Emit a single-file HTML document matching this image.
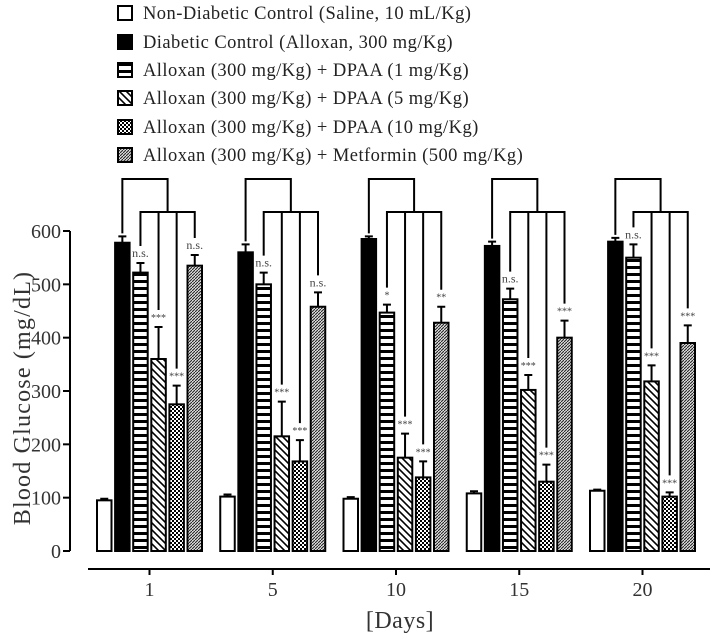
<!DOCTYPE html>
<html><head><meta charset="utf-8"><style>
body{margin:0;background:#fff}
svg{display:block;font-family:"Liberation Serif",serif}
</style></head><body>
<svg id="c" width="714" height="635" viewBox="0 0 714 635">
<defs>
<pattern id="p-h" width="6" height="7" patternUnits="userSpaceOnUse"><rect width="6" height="7" fill="#fff"/><rect y="0" width="6" height="3" fill="#000"/></pattern>
<pattern id="p-d" width="7" height="7" patternUnits="userSpaceOnUse"><rect width="7" height="7" fill="#fff"/><path d="M-1,-1 L8,8 M-8,-1 L1,8 M6,-1 L15,8" stroke="#000" stroke-width="1.6"/></pattern>
<pattern id="p-c" width="4" height="4" patternUnits="userSpaceOnUse"><rect width="4" height="4" fill="#fff"/><rect width="2" height="2" fill="#000"/><rect x="2" y="2" width="2" height="2" fill="#000"/></pattern>
<pattern id="p-m" width="3" height="3" patternUnits="userSpaceOnUse"><rect width="3" height="3" fill="#ddd"/><path d="M0,3 L3,0" stroke="#222" stroke-width="1"/></pattern>
</defs>
</svg>
<script>
const days=["1","5","10","15","20"];
const seriesNames=["Non-Diabetic Control (Saline, 10 mL/Kg)","Diabetic Control (Alloxan, 300 mg/Kg)","Alloxan (300 mg/Kg) + DPAA (1 mg/Kg)","Alloxan (300 mg/Kg) + DPAA (5 mg/Kg)","Alloxan (300 mg/Kg) + DPAA (10 mg/Kg)","Alloxan (300 mg/Kg) + Metformin (500 mg/Kg)"];
const normal=[95,102,98,108,113];
const diabetic=[578,560,585,572,580];
const dpaa1=[522,500,447,472,550];
const dpaa5=[360,215,175,302,318];
const dpaa10=[275,168,138,130,102];
const metformin=[535,458,428,400,390];
const errNormal=[3,4,3,4,2];
const errDiabetic=[12,15,5,8,7];
const errDpaa1=[18,22,15,20,25];
const errDpaa5=[60,65,45,28,30];
const errDpaa10=[35,40,30,32,8];
const errMetformin=[20,27,30,32,33];
const sigDpaa1=["n.s.","n.s.","*","n.s.","n.s."];
const sigDpaa5=["***","***","***","***","***"];
const sigDpaa10=["***","***","***","***","***"];
const sigMetformin=["n.s.","n.s.","**","***","***"];
const yTicks=[0,100,200,300,400,500,600];

const NS="http://www.w3.org/2000/svg";
const svg=document.getElementById('c');
function mk(t,a,p){const e=document.createElementNS(NS,t);for(const k in a)e.setAttribute(k,a[k]);(p||svg).appendChild(e);return e;}
const y=v=>551-v*(320/600);
const gx=i=>97+i*123.25;
const bx=(g,s)=>gx(g)+s*18.1;
const BW=14.5;
const fills=["#fff","#000","url(#p-h)","url(#p-d)","url(#p-c)","url(#p-m)"];
const vals=[normal,diabetic,dpaa1,dpaa5,dpaa10,metformin];
const errs=[errNormal,errDiabetic,errDpaa1,errDpaa5,errDpaa10,errMetformin];
const sigs=[null,null,sigDpaa1,sigDpaa5,sigDpaa10,sigMetformin];

let e=mk('line',{x1:70,y1:y(0),x2:70,y2:y(600),stroke:'#000','stroke-width':2});


yTicks.forEach(t=>{
  let l=mk('line',{x1:63,y1:y(t),x2:70,y2:y(t),stroke:'#000','stroke-width':2});
  
  
  let tx=mk('text',{x:61,y:y(t)+7,'text-anchor':'end','font-size':20,fill:'#333'});tx.textContent=t;
  
  
});
e=mk('text',{x:0,y:0,transform:'translate(30,398) rotate(-90)','text-anchor':'middle','font-size':24,'letter-spacing':1.2,fill:'#333'});e.textContent='Blood Glucose (mg/dL)';


e=mk('line',{x1:88,y1:569,x2:710,y2:569,stroke:'#000','stroke-width':2});


days.forEach((d,i)=>{
  const cx=bx(i,0)+(5*18.1+BW)/2;
  let l=mk('line',{x1:cx,y1:569,x2:cx,y2:575,stroke:'#000','stroke-width':2});
  
  
  let tx=mk('text',{x:cx,y:596,'text-anchor':'middle','font-size':20,fill:'#333'});tx.textContent=d;
  
  
});
e=mk('text',{x:400,y:628,'text-anchor':'middle','font-size':24,'letter-spacing':0.5,fill:'#333'});e.textContent='[Days]';



days.forEach((d,g)=>{
  const tops=[];
  for(let s=0;s<6;s++){
    const v=vals[s][g],er=errs[s][g],x=bx(g,s),cx=x+BW/2;
    const r=mk('rect',{x:x,y:y(v),width:BW,height:y(0)-y(v),fill:fills[s],stroke:'#000','stroke-width':2});
    
    
    const eb=mk('path',{d:`M${cx},${y(v)} V${y(v+er)} M${cx-4},${y(v+er)} H${cx+4}`,stroke:'#000','stroke-width':2,fill:'none'});
    
    
    let top=y(v+er)-3;
    if(sigs[s]){
      const t=mk('text',{x:cx,y:top-3,'text-anchor':'middle','font-size':sigs[s][g]==='n.s.'?12:10,fill:'#444'});t.textContent=sigs[s][g];
      
      
      top-=14;
    }
    tops.push(top);
  }
  const c1=bx(g,1)+BW/2,c2=bx(g,2)+BW/2,c3=bx(g,3)+BW/2,c4=bx(g,4)+BW/2,c5=bx(g,5)+BW/2;
  const mid=(c2+c5)/2;
  let p='M'+c1+','+tops[1]+' V179 H'+mid+' V212 M'+c2+','+tops[2]+' V212 H'+c5+' V'+tops[5]+' M'+c3+',212 V'+tops[3]+' M'+c4+',212 V'+tops[4];
  const br=mk('path',{d:p,stroke:'#000','stroke-width':2,fill:'none'});
  
  
});

const ly=[13,42,70,98,127,155];
seriesNames.forEach((n,i)=>{
  const r=mk('rect',{x:118,y:ly[i]-7,width:14,height:14,fill:fills[i],stroke:'#000','stroke-width':2});
  
  
  const t=mk('text',{x:143,y:ly[i]+6,'font-size':18.5,'letter-spacing':0.45,fill:'#222'});t.textContent=n;
  
  
});
</script>
</body></html>
